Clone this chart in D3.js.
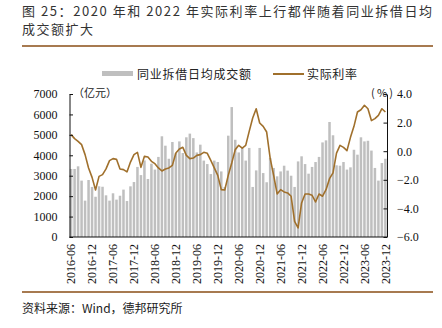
<!DOCTYPE html>
<html>
<head>
<meta charset="utf-8">
<script src="https://cdn.jsdelivr.net/npm/d3@7"></script>
<style>
  html, body { margin: 0; padding: 0; background: #fff; }
  svg { display: block; }
</style>
</head>
<body>
<svg id="chart" width="442" height="328"></svg>
<script>
// Monthly categories, 2016-06 .. 2023-12
const startYear = 2016, startMonth = 6, monthCount = 91;
const months = [];
for (let k = 0; k < monthCount; k++) {
  const m = startMonth - 1 + k;
  const y = startYear + Math.floor(m / 12);
  const mm = (m % 12) + 1;
  months.push(y + "-" + (mm < 10 ? "0" + mm : mm));
}

// 同业拆借日均成交额 (亿元)
const lendingVolume = [
  3330, 3330, 3460, 2760, 1780, 2790, 2450, 1970, 2480, 2460,
  2040, 1780, 2140, 1830, 2020, 2320, 1760, 2480, 2690, 3430,
  3030, 3750, 2840, 3590, 3300, 3920, 4930, 4470, 3830, 4650,
  4110, 4680, 4110, 4880, 5060, 4840, 4140, 4520, 3740, 3570,
  3080, 3740, 3670, 3210, 2450, 4960, 6360, 4760, 4140, 4360,
  3740, 4360, 2450, 3260, 4360, 3130, 2680, 3870, 3380, 2970,
  3210, 3490, 3250, 3000, 2450, 3700, 3950, 3570, 3100, 3430,
  3670, 3920, 4630, 4730, 5630, 4980, 3510, 3490, 3670, 3300,
  3410, 4270, 4030, 4880, 4680, 4710, 4230, 3380, 2760, 3620,
  3830
];

// 实际利率 (%)
const realRate = [
  1.16, 0.88, 0.69, 0.46, -0.24, -1.17, -1.83, -2.71, -1.76, -1.64,
  -1.24, -0.66, -0.52, -0.57, -1.24, -1.29, -1.45, -0.76, -0.24, -0.08,
  -1.13, -0.36, -0.41, -0.71, -0.87, -1.17, -1.38, -1.24, -1.17, -0.99,
  -0.13, 0.15, 0.27, -0.29, -0.52, -0.48, -0.29, -0.24, -0.08, -0.15,
  -0.64, -1.17, -1.69, -2.69, -2.71, -1.69, -0.83, 0.11, 0.41, 0.22,
  0.41, 1.39, 2.32, 2.97, 1.97, 1.74, 1.34, -0.48, -1.69, -2.99,
  -2.69, -2.85, -2.92, -3.15, -4.90, -5.37, -3.62, -2.99, -2.99, -3.08,
  -3.55, -2.99, -3.15, -2.69, -1.92, -1.52, -0.13, 0.41, 0.27, 0.04,
  0.97, 1.74, 2.74, 2.90, 3.21, 2.97, 2.14, 2.28, 2.51, 2.97,
  2.74
];

const xTickLabels = [
  "2016-06", "2016-12", "2017-06", "2017-12", "2018-06", "2018-12",
  "2019-06", "2019-12", "2020-06", "2020-12", "2021-06", "2021-12",
  "2022-06", "2022-12", "2023-06", "2023-12"
];
const leftTicks = [0, 1000, 2000, 3000, 4000, 5000, 6000, 7000];
const rightTicks = [-6, -4, -2, 0, 2, 4];

const titleLine1 = "图 25：2020 年和 2022 年实际利率上行都伴随着同业拆借日均";
const titleLine2 = "成交额扩大";
const sourceText = "资料来源：Wind，德邦研究所";
const barName = "同业拆借日均成交额";
const lineName = "实际利率";

const svg = d3.select("#chart");
const cjk = "'Noto Sans CJK SC', 'Liberation Sans', sans-serif";
const serif = "'Liberation Serif', 'Times New Roman', serif";
const barColor = "#bfbfbf";
const lineColor = "#a0702c";
const ruleColor = "#a77a50";

const plot = { left: 69.5, right: 387, top: 94, bottom: 237 };

const x = d3.scaleBand()
  .domain(months)
  .range([plot.left, plot.right])
  .paddingInner(0.28)
  .paddingOuter(0.1);
const yL = d3.scaleLinear().domain([0, 7000]).range([plot.bottom, plot.top]);
const yR = d3.scaleLinear().domain([-6, 4]).range([plot.bottom, plot.top]);

// Title
const title = svg.append("g").attr("font-family", cjk).attr("fill", "#333").attr("font-size", 13);
title.append("text").attr("x", 22).attr("y", 16)
  .attr("textLength", 410).attr("lengthAdjust", "spacing").text(titleLine1);
title.append("text").attr("x", 22).attr("y", 33.5)
  .attr("textLength", 71).attr("lengthAdjust", "spacing").text(titleLine2);

// Header / footer rules
svg.append("line").attr("x1", 22).attr("x2", 433).attr("y1", 46).attr("y2", 46)
  .attr("stroke", ruleColor).attr("stroke-width", 2);
svg.append("line").attr("x1", 22).attr("x2", 433).attr("y1", 292).attr("y2", 292)
  .attr("stroke", ruleColor).attr("stroke-width", 2);

// Legend
const legend = svg.append("g").attr("font-family", cjk).attr("font-size", 12).attr("fill", "#222");
legend.append("rect").attr("x", 102).attr("y", 71).attr("width", 31).attr("height", 5).attr("fill", barColor);
legend.append("text").attr("x", 137).attr("y", 78.5)
  .attr("textLength", 114).attr("lengthAdjust", "spacing").text(barName);
legend.append("line").attr("x1", 273).attr("x2", 304).attr("y1", 74).attr("y2", 74)
  .attr("stroke", lineColor).attr("stroke-width", 2);
legend.append("text").attr("x", 307).attr("y", 78.5)
  .attr("textLength", 50).attr("lengthAdjust", "spacing").text(lineName);

// Bars
svg.append("g").selectAll("rect")
  .data(lendingVolume)
  .join("rect")
  .attr("x", (d, i) => x(months[i]))
  .attr("width", x.bandwidth())
  .attr("y", d => yL(d))
  .attr("height", d => yL(0) - yL(d))
  .attr("fill", barColor);

// Real rate line
const line = d3.line()
  .x((d, i) => x(months[i]) + x.bandwidth() / 2)
  .y(d => yR(d));
svg.append("path")
  .datum(realRate)
  .attr("d", line)
  .attr("fill", "none")
  .attr("stroke", lineColor)
  .attr("stroke-width", 1.6)
  .attr("stroke-linejoin", "round");

// Left axis
const axL = d3.axisLeft(yL).tickValues(leftTicks).tickFormat(d3.format("d"))
  .tickSizeInner(-3.5).tickSizeOuter(0).tickPadding(12);
const gL = svg.append("g").attr("transform", `translate(${plot.left},0)`).call(axL);
gL.selectAll("text").attr("font-family", serif).attr("font-size", 12).attr("fill", "#111");

// Right axis
const axR = d3.axisRight(yR).tickValues(rightTicks).tickSizeInner(-3.5).tickSizeOuter(0)
  .tickPadding(10).tickFormat(d3.format(".1f"));
const gR = svg.append("g").attr("transform", `translate(${plot.right},0)`).call(axR);
gR.selectAll("text").attr("font-family", serif).attr("font-size", 12).attr("fill", "#111");

[gL, gR].forEach(g => {
  g.select(".domain").attr("stroke", "#111").attr("stroke-width", 1);
  g.selectAll(".tick line").attr("stroke", "#111");
});

// Bottom axis
const axB = d3.axisBottom(x)
  .tickValues(xTickLabels)
  .tickSize(0)
  .tickPadding(0);
const gB = svg.append("g").attr("transform", `translate(0,${plot.bottom})`).call(axB);
gB.select(".domain").attr("d", `M${plot.left},0H${plot.right}`).attr("stroke", "#111").attr("stroke-width", 1.2);
gB.selectAll("text")
  .attr("font-family", serif).attr("font-size", 12).attr("fill", "#111")
  .attr("text-anchor", "end")
  .attr("transform", "translate(0,7) rotate(-90)")
  .attr("x", 0).attr("y", 0).attr("dy", "0.35em");

// Unit labels
svg.append("text").attr("x", 73).attr("y", 97).attr("font-family", cjk).attr("font-size", 11)
  .attr("fill", "#222").attr("textLength", 44).attr("lengthAdjust", "spacing").text("（亿元）");
svg.append("text").attr("x", 371).attr("y", 97).attr("font-family", cjk).attr("font-size", 11)
  .attr("fill", "#222").attr("textLength", 22).attr("lengthAdjust", "spacing").text("(%)");

// Source
svg.append("text").attr("x", 22).attr("y", 313).attr("font-family", cjk).attr("font-size", 12)
  .attr("fill", "#222").text(sourceText);
</script>
</body>
</html>
